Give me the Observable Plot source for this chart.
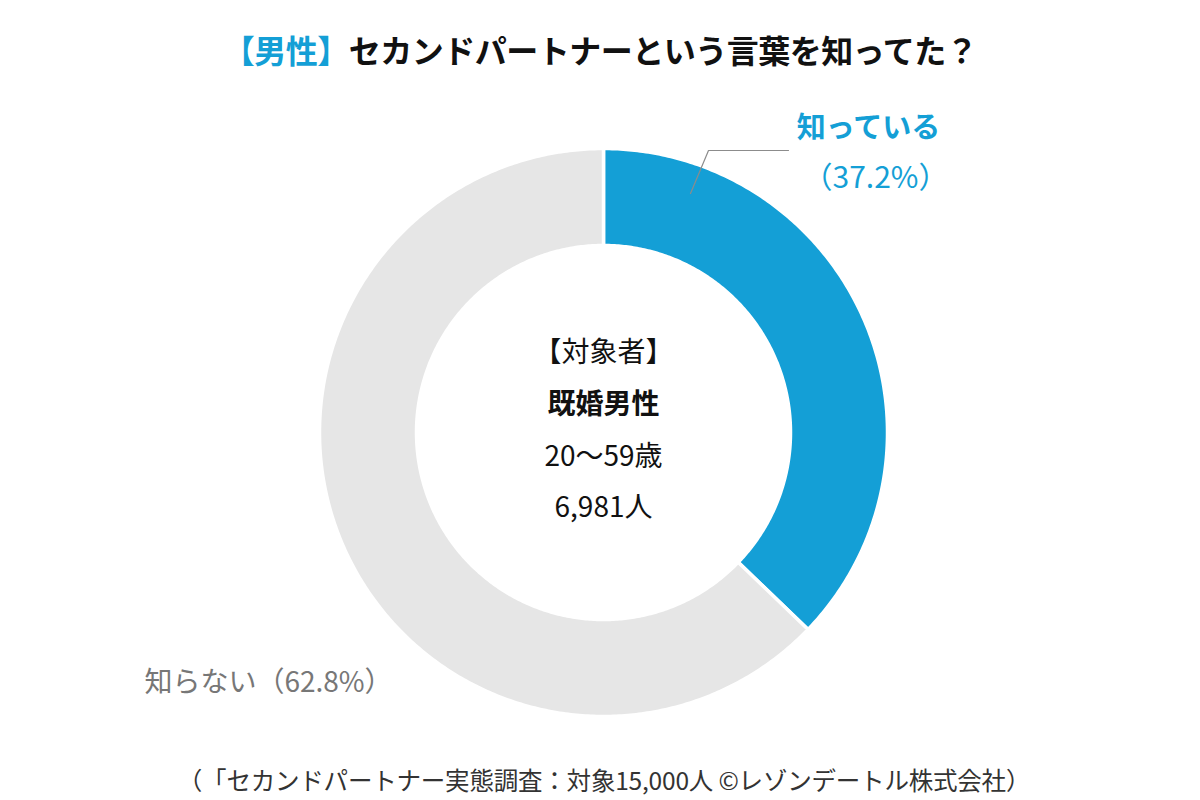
<!DOCTYPE html>
<html><head><meta charset="utf-8">
<script src="https://cdn.jsdelivr.net/npm/d3@7"></script>
<script src="https://cdn.jsdelivr.net/npm/@observablehq/plot@0.6"></script>
<style>
html,body{margin:0;padding:0;background:#fff;width:1200px;height:800px;overflow:hidden;font-family:"Noto Sans CJK JP",sans-serif;text-spacing-trim:space-all;}
#title{height:95px;box-sizing:border-box;padding-top:27px;text-align:center;font-size:32px;font-weight:700;color:#111;line-height:44px;letter-spacing:-0.5px;}
#title .hl{color:#149fd6;}
#chart{height:660px;}
#caption{text-align:center;font-size:24.5px;color:#333;line-height:30px;padding-top:10px;letter-spacing:-0.2px;padding-left:8px;}
svg text{text-spacing-trim:space-all;}
</style></head>
<body>
<div id="title"><span class="hl">【男性】</span>セカンドパートナーという言葉を知ってた？</div>
<div id="chart"></div>
<div id="caption">（「セカンドパートナー実態調査：対象15,000人 ©レゾンデートル株式会社）</div>
<script>
const categories = ["知っている", "知らない"];
const values = [37.2, 62.8];
const colors = ["#149fd6", "#e6e6e6"];
const centerLines = ["【対象者】", "既婚男性", "20〜59歳", "6,981人"];

const W = 1200, H = 660;
const cx = 603, cy = 337, R = 284, r0 = 187;
const innerRatio = r0 / R;

// slice geometry from d3.pie (angles clockwise from 12 o'clock)
const pie = d3.pie().sort(null).value(d => d.value);
const arcs = pie(categories.map((c, i) => ({label: c, value: values[i]})));
const points = [];
for (const a of arcs) {
  const n = Math.max(8, Math.ceil((a.endAngle - a.startAngle) / 0.01));
  const ring = [];
  for (let k = 0; k <= n; k++) {
    const t = a.startAngle + (a.endAngle - a.startAngle) * k / n;
    ring.push({label: a.data.label, x: Math.sin(t), y: Math.cos(t)});
  }
  for (let k = n; k >= 0; k--) {
    const t = a.startAngle + (a.endAngle - a.startAngle) * k / n;
    ring.push({label: a.data.label, x: innerRatio * Math.sin(t), y: innerRatio * Math.cos(t)});
  }
  ring.push({...ring[0]});
  points.push(...ring);
}

// helper: pixel offsets from center -> data coords
const P = (dx, dy) => ({x: dx / R, y: -dy / R});

const centerText = centerLines.map((t, i) => ({text: t, ...P(0, [-79, -27, 25, 76][i]), bold: i === 1}));
const lblKnow = [
  {text: categories[0], ...P(265, -304)},
  {text: `（${values[0]}%）`, ...P(272, -254)}
];
const lblNot = [{text: `${categories[1]}（${values[1]}%）`, ...P(-335, 251)}];
const leader = [P(87, -239), P(105, -282), P(185, -282)];

const chart = Plot.plot({
  width: W, height: H,
  marginLeft: cx - R, marginRight: W - (cx + R),
  marginTop: cy - R, marginBottom: H - (cy + R),
  x: {domain: [-1, 1], axis: null},
  y: {domain: [-1, 1], axis: null},
  color: {domain: categories, range: colors},
  style: {fontFamily: "'Noto Sans CJK JP', sans-serif", background: "#fff"},
  marks: [
    Plot.line(points, {x: "x", y: "y", z: "label", fill: "label", stroke: "white", strokeWidth: 3.5, curve: "linear"}),
    Plot.line(leader, {x: "x", y: "y", stroke: "#8c8c8c", strokeWidth: 1.2}),
    Plot.text(centerText.filter(d => !d.bold), {x: "x", y: "y", text: "text", fontSize: 28, fill: "#111"}),
    Plot.text(centerText.filter(d => d.bold), {x: "x", y: "y", text: "text", fontSize: 28, fontWeight: "bold", fill: "#111"}),
    Plot.text(lblKnow.slice(0, 1), {x: "x", y: "y", text: "text", fontSize: 29, fontWeight: "bold", fill: colors[0]}),
    Plot.text(lblKnow.slice(1), {x: "x", y: "y", text: "text", fontSize: 30, fill: colors[0]}),
    Plot.text(lblNot, {x: "x", y: "y", text: "text", fontSize: 28, fill: "#777"})
  ]
});
document.getElementById("chart").appendChild(chart);
</script>
</body></html>
